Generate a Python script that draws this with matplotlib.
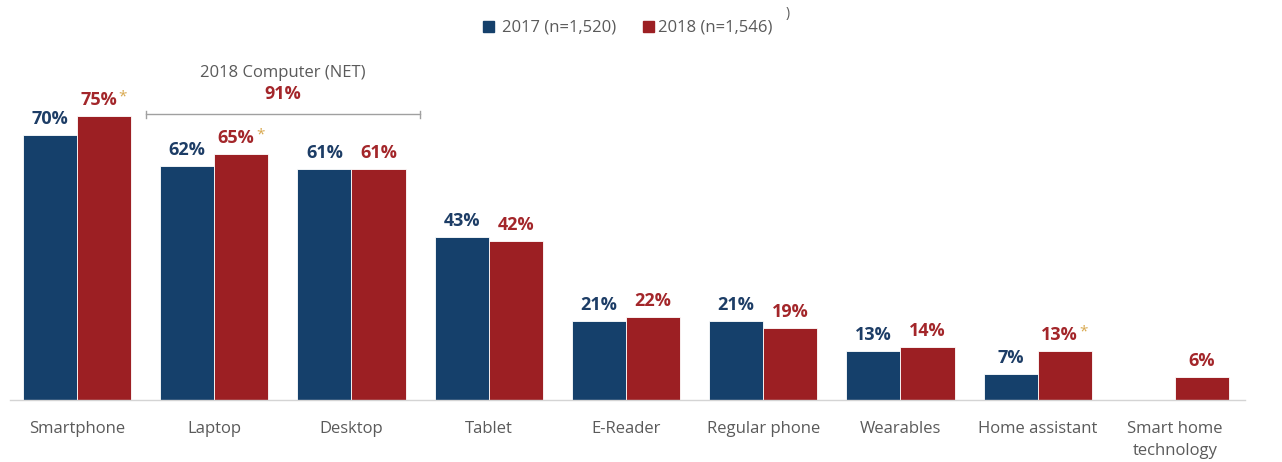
import matplotlib.pyplot as plt
import matplotlib.patches as mpatches
import numpy as np

plt.rcParams['font.family'] = ['Open Sans', 'DejaVu Sans']

categories = ['Smartphone', 'Laptop', 'Desktop', 'Tablet', 'E-Reader',
              'Regular phone', 'Wearables', 'Home assistant', 'Smart home\ntechnology']
y2017 = [70, 62, 61, 43, 21, 21, 13, 7, None]
y2018 = [75, 65, 61, 42, 22, 19, 14, 13, 6]
star2018 = [True, True, False, False, False, False, False, True, False]
net_label = '2018 Computer (NET)'
net_value = '91%'

blue = '#15406b'
red = '#9c1f23'
blue_txt = '#1d3d66'
red_txt = '#a3262a'
gold = '#d8a84e'
grey = '#5a5a5a'

fig = plt.figure(figsize=(12.82, 4.62), dpi=100)
ax = fig.add_axes([10/1282, 62/462, 1235/1282, 360/462])

x = np.arange(len(categories))
w = 0.395
for i in range(len(categories)):
    if y2017[i] is not None:
        ax.bar(x[i] - w/2, y2017[i], w, color=blue, edgecolor='white', linewidth=0.6)
        ax.annotate(f'{y2017[i]}%', (x[i] - w/2, y2017[i]), xytext=(0, 5),
                    textcoords='offset points', ha='center', va='bottom',
                    fontsize=13, fontweight='bold', color=blue_txt)
    ax.bar(x[i] + w/2, y2018[i], w, color=red, edgecolor='white', linewidth=0.6)
    dx = -4 if star2018[i] else 0
    ax.annotate(f'{y2018[i]}%', (x[i] + w/2, y2018[i]), xytext=(dx, 5),
                textcoords='offset points', ha='center', va='bottom',
                fontsize=13, fontweight='bold', color=red_txt)
    if star2018[i]:
        ax.annotate('*', (x[i] + w/2, y2018[i]), xytext=(10.5, 8.5),
                    textcoords='offset points', ha='left', va='bottom',
                    fontsize=11, color=gold)

# bracket for computer NET
yb = 75.5
ax.plot([0.5, 2.5], [yb, yb], color='#a0a0a0', lw=1)
ax.plot([0.5, 0.5], [yb - 0.8, yb + 0.8], color='#a0a0a0', lw=1)
ax.plot([2.5, 2.5], [yb - 0.8, yb + 0.8], color='#a0a0a0', lw=1)
ax.text(1.5, 80.8, net_value, ha='center', va='center', fontsize=13,
        fontweight='bold', color=red_txt)
ax.text(1.5, 86.6, net_label, ha='center', va='center', fontsize=12, color=grey)

ax.set_xlim(-0.488, 8.51)
ax.set_ylim(0, 95.2)
ax.set_xticks(x)
ax.set_xticklabels(categories, fontsize=12, color=grey, linespacing=1.55)
ax.tick_params(axis='x', length=0, pad=15)
ax.set_yticks([])
for s in ['top', 'right', 'left']:
    ax.spines[s].set_visible(False)
ax.spines['bottom'].set_color('#d4d4d4')
ax.spines['bottom'].set_linewidth(1)

# legend
fig.patches.append(mpatches.Rectangle((483/1282, 1 - 32/462), 11/1282, 11/462,
                                      transform=fig.transFigure, color=blue))
fig.text(502/1282, 1 - 27/462, '2017 (n=1,520)', color=grey, fontsize=12, ha='left', va='center')
fig.patches.append(mpatches.Rectangle((643/1282, 1 - 32/462), 11/1282, 11/462,
                                      transform=fig.transFigure, color=red))
fig.text(658/1282, 1 - 27/462, '2018 (n=1,546)', color=grey, fontsize=12, ha='left', va='center')
fig.text(786/1282, 1 - 14/462, ')', color=grey, fontsize=10, ha='left', va='center')

fig.savefig('out.png', dpi=100)
